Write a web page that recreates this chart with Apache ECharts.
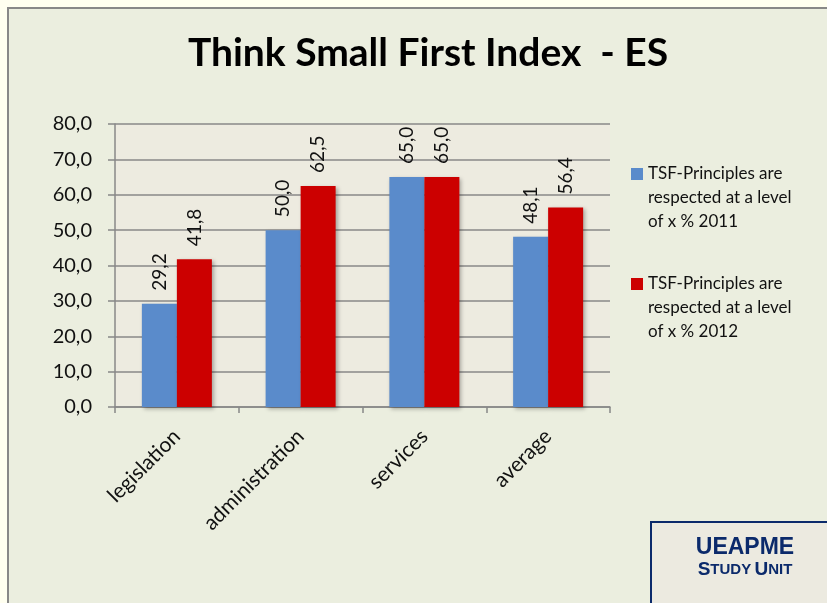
<!DOCTYPE html>
<html>
<head>
<meta charset="utf-8">
<script src="https://cdn.jsdelivr.net/npm/echarts@6/dist/echarts.min.js"></script>
<style>
  html, body { margin: 0; padding: 0; background: #FFFFF0; }
  #chart { width: 827px; height: 603px; }
</style>
</head>
<body>
<div id="chart"></div>
<script>
const categories = ["legislation", "administration", "services", "average"];
const values2011 = [29.2, 50.0, 65.0, 48.1];
const values2012 = [41.8, 62.5, 65.0, 56.4];
const seriesNames = [
  "TSF-Principles are\nrespected at a level\nof x % 2011",
  "TSF-Principles are\nrespected at a level\nof x % 2012"
];
const yTicks = { min: 0, max: 80, interval: 10 };

const chart = echarts.init(document.getElementById("chart"));
const fontMain = "Lato, 'Open Sans', sans-serif";

// comma as decimal separator
const fmt = v => v.toFixed(1).replace(".", ",");

function barSeries(name, data, color) {
  return {
    name: name,
    type: "bar",
    data: data,
    barWidth: 35,
    barGap: "0%",
    itemStyle: {
      color: color,
      shadowColor: "rgba(0,0,0,0.3)",
      shadowBlur: 4,
      shadowOffsetX: 2,
      shadowOffsetY: 2
    },
    label: {
      show: true,
      position: "top",
      rotate: 90,
      align: "left",
      verticalAlign: "middle",
      distance: 13,
      color: "#111",
      fontFamily: fontMain,
      fontSize: 19,
      formatter: p => fmt(p.value)
    }
  };
}

// two blank lines first so the icon sits next to the first text line
function legendFor(name, top) {
  return {
    data: [name],
    left: 631,
    top: top,
    padding: 0,
    itemWidth: 12,
    itemHeight: 12,
    itemGap: 6,
    selectedMode: false,
    icon: "rect",
    formatter: n => "\n\n" + n,
    textStyle: {
      fontFamily: fontMain,
      fontSize: 17,
      color: "#111",
      lineHeight: 24
    }
  };
}

const option = {
  backgroundColor: "#FFFFF0",
  animation: false,
  graphic: [
    {
      type: "rect",
      z: -10,
      silent: true,
      shape: { x: 8, y: 8, width: 840, height: 620 },
      style: { fill: "#EBEEDF", stroke: "#888", lineWidth: 2 }
    },
    {
      type: "rect",
      z: 10,
      silent: true,
      shape: { x: 651, y: 522, width: 200, height: 100 },
      style: { fill: "#ECEAE0", stroke: "#0B2A6B", lineWidth: 2 }
    },
    {
      type: "text",
      z: 11,
      silent: true,
      x: 745,
      y: 548,
      style: {
        text: "UEAPME",
        fill: "#0B2A6B",
        font: "bold 23px 'Liberation Sans', Arial, sans-serif",
        align: "center",
        verticalAlign: "middle"
      }
    },
    {
      type: "text",
      z: 11,
      silent: true,
      x: 745,
      y: 570,
      style: {
        text: "{b|S}{s|TUDY} {b|U}{s|NIT}",
        fill: "#0B2A6B",
        align: "center",
        verticalAlign: "middle",
        rich: {
          b: { fontFamily: "'Liberation Sans', Arial", fontWeight: "bold", fontSize: 19, fill: "#0B2A6B" },
          s: { fontFamily: "'Liberation Sans', Arial", fontWeight: "bold", fontSize: 15, fill: "#0B2A6B" }
        }
      }
    }
  ],
  title: {
    text: "Think Small First Index  - ES",
    left: 423,
    top: 29,
    textAlign: "center",
    textStyle: {
      fontFamily: fontMain,
      fontWeight: "bold",
      fontSize: 39,
      color: "#000"
    }
  },
  legend: [
    legendFor(seriesNames[0], 114),
    legendFor(seriesNames[1], 224)
  ],
  grid: {
    left: 115,
    right: 217,
    top: 124,
    bottom: 196,
    show: true,
    backgroundColor: "#EDEBE0",
    borderWidth: 0
  },
  xAxis: {
    type: "category",
    data: categories,
    axisLine: { lineStyle: { color: "#888", width: 1.5 } },
    axisTick: { show: true, length: 6, alignWithLabel: false, lineStyle: { color: "#888", width: 1.5 } },
    axisLabel: {
      rotate: 45,
      margin: 26,
      color: "#111",
      fontFamily: fontMain,
      fontSize: 21,
      interval: 0
    }
  },
  yAxis: {
    type: "value",
    min: yTicks.min,
    max: yTicks.max,
    interval: yTicks.interval,
    axisLine: { show: true, lineStyle: { color: "#888", width: 1.5 } },
    axisTick: { show: true, length: 7, lineStyle: { color: "#888", width: 1.5 } },
    splitLine: { show: true, lineStyle: { color: "#888", width: 1.5 } },
    axisLabel: {
      margin: 23,
      color: "#111",
      fontFamily: fontMain,
      fontSize: 20,
      formatter: v => fmt(v)
    }
  },
  series: [
    barSeries(seriesNames[0], values2011, "#5A8BCB"),
    barSeries(seriesNames[1], values2012, "#CC0000")
  ]
};

chart.setOption(option);
</script>
</body>
</html>
